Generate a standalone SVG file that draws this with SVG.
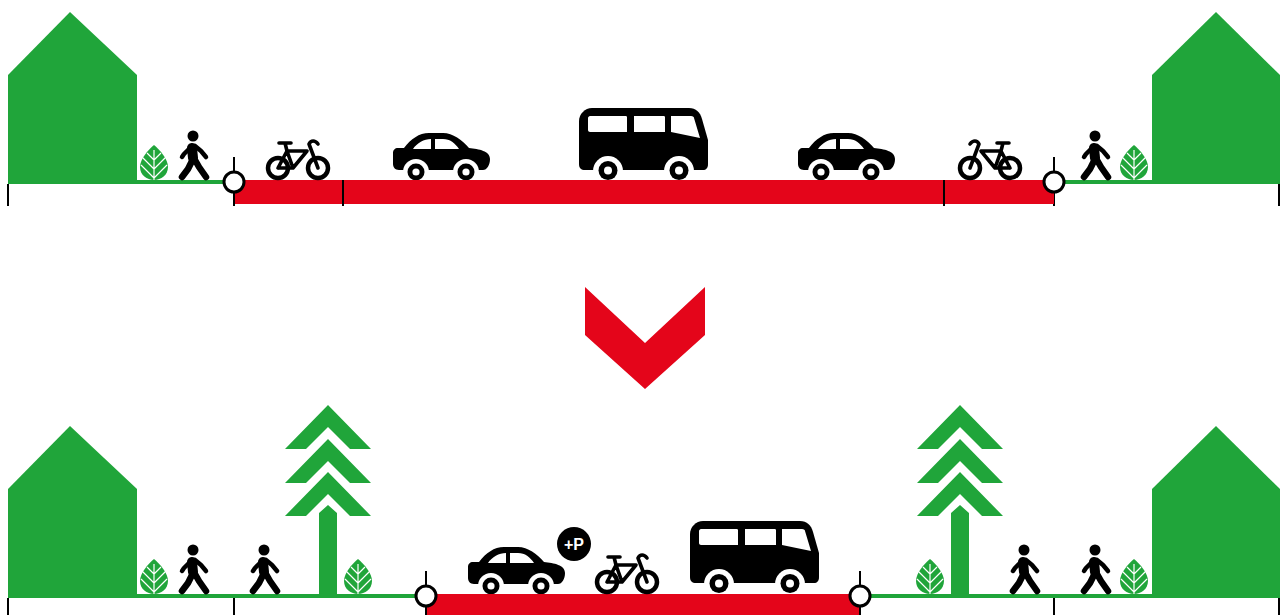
<svg xmlns="http://www.w3.org/2000/svg" width="1284" height="615" viewBox="0 0 1284 615">
<style>
.g{fill:#20a53a}.r{fill:#e4051a}.k{fill:#000}.w{fill:#fff}
.tick{stroke:#000;stroke-width:2;fill:none}
.ground{stroke:#20a53a;stroke-width:4;fill:none}
.node{fill:#fff;stroke:#000;stroke-width:3}
.vein{stroke:#fff;stroke-width:1.2;fill:none}
.fr{stroke:#000;fill:none;stroke-linecap:round;stroke-linejoin:round}
</style>
<defs>
<g id="leaf"><path class="g" d="M0 0C6 5 14 14 14 22C14 30 7 35 0 35C-7 35-14 30-14 22C-14 14-6 5 0 0Z"/><path class="vein" d="M0 5V35M0 33L-13 20M0 33L13 20M0 24L-12 12M0 24L12 12M0 15L-7 8M0 15L7 8"/></g>
<g id="person"><circle class="k" cx="0" cy="0" r="5.5"/><path class="fr" stroke-width="10" d="M-1 12L0 22"/><path class="fr" stroke-width="6.500" d="M-1 25L-5 33L-11 41M2 24L6 31L13 41"/><path class="fr" stroke-width="4.500" d="M2 10L8 15L13 21M-3 12L-9 18L-11 21"/></g>
<g id="bike"><circle class="fr" cx="0" cy="0" r="10" stroke-width="4.500"/><circle class="fr" cx="40" cy="0" r="10" stroke-width="4.500"/><path class="fr" stroke-width="3.600" d="M0 0H15L29-17H9L0 0M9-17L7-25M15 0L9-17M1-25H13M40 0L31-24C33-28 37-28 40-24"/></g>
<g id="car"><path class="k" d="M0 21C0 18 2 16 5 16H11C18 7 26 1 36 1H50C60 1 69 8 76 16C86 17 97 19 97 27C97 33 94 38 90 38H6C2 38 0 35 0 32Z"/><path class="w" d="M20 17C24 11 31 7 38 7V17ZM42 7H50C57 7 62 11 66 17H42Z"/><circle class="w" cx="23" cy="40" r="13"/><circle class="w" cx="73" cy="40" r="13"/><circle class="k" cx="23" cy="40" r="8.5"/><circle class="w" cx="23" cy="40" r="3.6"/><circle class="k" cx="73" cy="40" r="8.5"/><circle class="w" cx="73" cy="40" r="3.6"/></g>
<g id="bus"><path class="k" d="M13 0H110C117 0 121 4 123 11L129 32V56C129 60 127 62 124 62H6C2 62 0 60 0 56V13C0 6 6 0 13 0Z"/><path class="w" d="M11 8H47C48 8 48 9 48 10V24H11C10 24 9 23 9 22V10C9 9 10 8 11 8ZM55 8H85C86 8 86 9 86 10V24H55V10C55 9 55 8 55 8ZM92 8H112C114 8 115 9 115 10L121 30L92 24Z"/><circle class="w" cx="29" cy="63" r="15"/><circle class="w" cx="100" cy="63" r="15"/><circle class="k" cx="29" cy="62.500" r="9.500"/><circle class="w" cx="29" cy="62.500" r="4"/><circle class="k" cx="100" cy="62.500" r="9.500"/><circle class="w" cx="100" cy="62.500" r="4"/></g>
<g id="tree"><path class="g" d="M0 0L43 44H22L0 22L-22 44H-43ZM0 34L43 78H22L0 56L-22 78H-43ZM0 67L43 111H22L0 89L-22 111H-43ZM0 100L9 108V191H-9V108Z"/></g>
</defs>
<rect width="1284" height="615" fill="#fff"/>
<g id="cars"><use href="#car" x="393" y="132"/><use href="#car" x="798" y="132"/><use href="#car" x="468" y="546"/></g>
<g id="buses"><use href="#bus" x="579" y="108"/><use href="#bus" x="690" y="521"/></g>
<g id="connectors">
<path class="ground" d="M137 182H224M1064 182H1280M8 596H416M870 596H1280"/>
<path class="tick" d="M8 184V206M234 157V206M1054 157V206M1279 184V206M8 598V615M234 598V615M426 571V615M860 571V615M1054 598V615M1279 598V615"/>
</g>
<g id="top-road"><rect class="r" x="235" y="180" width="819" height="24"/></g>
<g id="bottom-road"><rect class="r" x="427" y="594" width="432" height="21"/></g>
<g id="road-ticks"><path class="tick" d="M343 180V206M944 180V206"/></g>
<g id="top-house-left"><path class="g" d="M8 75L70 12L137 75V184H8Z"/></g>
<g id="top-house-right"><path class="g" d="M1152 75L1216 12L1280 75V184H1152Z"/></g>
<g id="bottom-house-left"><path class="g" d="M8 489L70 426L137 489V598H8Z"/></g>
<g id="bottom-house-right"><path class="g" d="M1152 489L1216 426L1280 489V598H1152Z"/></g>
<g id="tree-left"><use href="#tree" x="328" y="405"/></g>
<g id="tree-right"><use href="#tree" x="960" y="405"/></g>
<g id="leaves"><use href="#leaf" x="154" y="145"/><use href="#leaf" x="1134" y="145"/><use href="#leaf" x="154" y="559"/><use href="#leaf" x="358" y="559"/><use href="#leaf" x="930" y="559"/><use href="#leaf" x="1134" y="559"/></g>
<g id="people"><use href="#person" x="193" y="136"/><use href="#person" x="1095" y="136"/><use href="#person" x="193" y="550"/><use href="#person" x="264" y="550"/><use href="#person" x="1024" y="550"/><use href="#person" x="1095" y="550"/></g>
<g id="bikes"><use href="#bike" x="278" y="168"/><use href="#bike" transform="translate(1010 168) scale(-1 1)"/><use href="#bike" x="607" y="582"/></g>
<g id="parking"><circle class="k" cx="574" cy="544" r="17"/><text x="574" y="550" text-anchor="middle" font-family="'Liberation Sans',sans-serif" font-weight="700" font-size="16" fill="#fff">+P</text></g>
<g id="junctions"><circle class="node" cx="234" cy="182" r="10"/><circle class="node" cx="1054" cy="182" r="10"/><circle class="node" cx="426" cy="596" r="10"/><circle class="node" cx="860" cy="596" r="10"/></g>
<g id="arrow"><path class="r" d="M585 287L645 343L705 287V335L645 389L585 335Z"/></g>
</svg>
